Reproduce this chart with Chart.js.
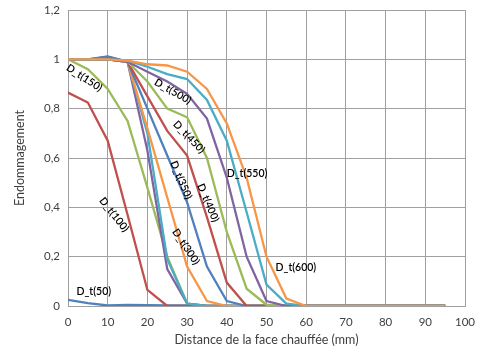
<!DOCTYPE html>
<html>
<head>
<meta charset="utf-8">
<script src="https://cdn.jsdelivr.net/npm/chart.js@4.4.1/dist/chart.umd.min.js"></script>
<style>
  html, body { margin: 0; padding: 0; background: #fff; }
  #chart { display: block; }
</style>
</head>
<body>
<canvas id="chart" width="478" height="351"></canvas>
<script>
'use strict'
// distance from heated face (mm)
let distances = [0, 5, 10, 15, 20, 25, 30, 35, 40, 45, 50, 55, 60, 65, 70, 75, 80, 85, 90, 95];
let seriesNames = ['D_t(50)', 'D_t(100)', 'D_t(150)', 'D_t(200)', 'D_t(250)', 'D_t(300)',
  'D_t(350)', 'D_t(400)', 'D_t(450)', 'D_t(500)', 'D_t(550)', 'D_t(600)'];
let d50  = [0.025, 0.012, 0.002, 0.004, 0.003, 0.002, 0.002, 0, 0, 0, 0, 0, 0, 0, 0, 0, 0, 0, 0, 0];
let d100 = [0.865, 0.825, 0.67, 0.37, 0.065, 0, 0, 0, 0, 0, 0, 0, 0, 0, 0, 0, 0, 0, 0, 0];
let d150 = [1, 0.96, 0.88, 0.75, 0.48, 0.2, 0.01, 0, 0, 0, 0, 0, 0, 0, 0, 0, 0, 0, 0, 0];
let d200 = [1, 1, 1.012, 0.99, 0.63, 0.15, 0.01, 0, 0, 0, 0, 0, 0, 0, 0, 0, 0, 0, 0, 0];
let d250 = [1, 1, 1.005, 0.99, 0.7, 0.19, 0.01, 0, 0, 0, 0, 0, 0, 0, 0, 0, 0, 0, 0, 0];
let d300 = [1, 1, 1, 0.99, 0.72, 0.44, 0.16, 0.02, 0, 0, 0, 0, 0, 0, 0, 0, 0, 0, 0, 0];
let d350 = [1, 1, 1.01, 0.99, 0.8, 0.61, 0.42, 0.16, 0.02, 0, 0, 0, 0, 0, 0, 0, 0, 0, 0, 0];
let d400 = [1, 1, 1, 0.99, 0.85, 0.71, 0.61, 0.36, 0.095, 0, 0, 0, 0, 0, 0, 0, 0, 0, 0, 0];
let d450 = [1, 1, 1, 0.99, 0.91, 0.8, 0.765, 0.6, 0.3, 0.07, 0.005, 0, 0, 0, 0, 0, 0, 0, 0, 0];
let d500 = [1, 1, 1, 0.99, 0.95, 0.91, 0.86, 0.76, 0.52, 0.2, 0.02, 0, 0, 0, 0, 0, 0, 0, 0, 0];
let d550 = [1, 1, 1, 0.995, 0.97, 0.94, 0.92, 0.835, 0.67, 0.38, 0.087, 0.01, 0, 0, 0, 0, 0, 0, 0, 0];
let d600 = [1, 1, 1, 0.995, 0.98, 0.975, 0.95, 0.88, 0.74, 0.52, 0.2, 0.03, 0, 0, 0, 0, 0, 0, 0, 0];
let seriesValues = [d50, d100, d150, d200, d250, d300, d350, d400, d450, d500, d550, d600];
let yTicks = ['0', '0,2', '0,4', '0,6', '0,8', '1', '1,2'];

// excel 2007 palette, repeats after 6 series
let colors = ['#4F81BD', '#C0504D', '#9BBB59', '#8064A2', '#4BACC6', '#F79646'];

// where the series names are written on the plot (data units), angle in degrees
let nameLabels = [
  { text: 'D_t(50)', x: 6.5, y: 0.058, angle: 0 },
  { text: 'D_t(100)', x: 11.6, y: 0.37, angle: 52 },
  { text: 'D_t(150)', x: 4.1, y: 0.925, angle: 33 },
  { text: 'D_t(500)', x: 26.4, y: 0.87, angle: 30 },
  { text: 'D_t(450)', x: 30.5, y: 0.685, angle: 46 },
  { text: 'D_t(350)', x: 28.5, y: 0.51, angle: 67 },
  { text: 'D_t(400)', x: 35.3, y: 0.418, angle: 67 },
  { text: 'D_t(300)', x: 29.7, y: 0.24, angle: 56 },
  { text: 'D_t(550)', x: 45.1, y: 0.535, angle: 0 },
  { text: 'D_t(600)', x: 57.4, y: 0.155, angle: 0 }
];

let datasets = [];
for (let i = 0; i < seriesValues.length; i++) {
  datasets.push({
    label: seriesNames[i],
    data: distances.map((d, j) => ({ x: d, y: seriesValues[i][j] })),
    borderColor: colors[i % 6],
    backgroundColor: colors[i % 6],
    borderWidth: 2.3,
    pointRadius: 0,
    tension: 0,
    fill: false,
    order: seriesValues.length - i
  });
}

let nameLabelPlugin = {
  id: 'nameLabels',
  afterDatasetsDraw(chart) {
    let ctx = chart.ctx;
    let xs = chart.scales.x, ys = chart.scales.y;
    ctx.save();
    ctx.fillStyle = '#000';
    ctx.font = '600 10.5px Lato';
    ctx.textAlign = 'center';
    ctx.textBaseline = 'middle';
    for (let l of nameLabels) {
      ctx.save();
      ctx.translate(xs.getPixelForValue(l.x), ys.getPixelForValue(l.y));
      ctx.rotate(l.angle * Math.PI / 180);
      ctx.fillText(l.text, 0, 0);
      ctx.restore();
    }
    ctx.restore();
  }
};

let gridColor = '#a0a0a0';
new Chart(document.getElementById('chart'), {
  type: 'line',
  data: { datasets: datasets },
  options: {
    responsive: false,
    animation: false,
    layout: { padding: { top: 10, right: 13, left: 0, bottom: 0 } },
    plugins: { legend: { display: false }, tooltip: { enabled: false } },
    scales: {
      x: {
        type: 'linear', min: 0, max: 100,
        afterFit(s) { s.height = 45; s.paddingLeft = 0; s.paddingRight = 0; },
        ticks: { stepSize: 10, color: '#404040', font: { family: 'Lato', size: 11.5 }, maxRotation: 0, padding: 9 },
        grid: { color: gridColor, lineWidth: 1, drawTicks: false },
        border: { color: gridColor },
        title: { display: true, text: 'Distance de la face chauffée (mm)', color: '#404040', font: { family: 'Lato', size: 12.5 }, padding: { top: 2 } }
      },
      y: {
        type: 'linear', min: 0, max: 1.2,
        afterFit(s) { s.width = 68; s.paddingTop = 0; s.paddingBottom = 0; },
        ticks: { stepSize: 0.2, color: '#404040', font: { family: 'Lato', size: 11.5 }, padding: 8,
          callback: (v, i) => yTicks[i] },
        grid: { color: gridColor, lineWidth: 1, drawTicks: false },
        border: { color: gridColor },
        title: { display: true, text: 'Endommagement', color: '#404040', font: { family: 'Lato', size: 12.5 }, padding: { top: 12, bottom: 0 } }
      }
    }
  },
  plugins: [nameLabelPlugin]
});
</script>
</body>
</html>
